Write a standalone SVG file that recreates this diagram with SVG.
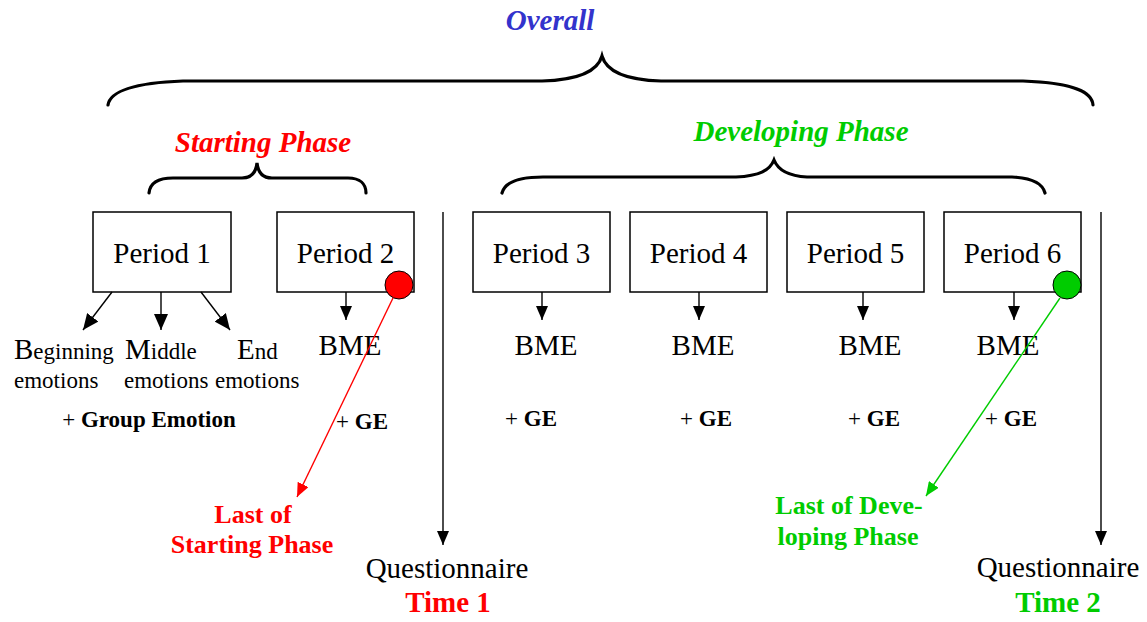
<svg xmlns="http://www.w3.org/2000/svg" width="1147" height="622" viewBox="0 0 1147 622">
<style>
text{font-family:"Liberation Serif","Times New Roman",serif;fill:#000}
.box{fill:#fff;stroke:#000;stroke-width:1.5}
.brace{fill:none;stroke:#000;stroke-width:3.2;stroke-linecap:round}
.ln{stroke:#000;stroke-width:1.4;fill:none}
.big{font-size:29px}
.sm{font-size:23px}
.ttl{font-size:29px;font-weight:bold;font-style:italic}
.ge{font-size:23px}
.b{font-weight:bold}
.red{fill:#ff0000}
.grn{fill:#00cc00}
</style>
<defs>
<marker id="ah" viewBox="0 0 14 12" refX="14" refY="6" markerWidth="14" markerHeight="12" markerUnits="userSpaceOnUse" orient="auto"><path d="M0,0 L14,6 L0,12 Z" fill="#000"/></marker>
<marker id="ahb" viewBox="0 0 16 14" refX="16" refY="7" markerWidth="16" markerHeight="14" markerUnits="userSpaceOnUse" orient="auto"><path d="M0,0 L16,7 L0,14 Z" fill="#000"/></marker>
<marker id="ahr" viewBox="0 0 14 12" refX="14" refY="6" markerWidth="14" markerHeight="12" markerUnits="userSpaceOnUse" orient="auto"><path d="M0,0 L14,6 L0,12 Z" fill="#ff0000"/></marker>
<marker id="ahg" viewBox="0 0 14 12" refX="14" refY="6" markerWidth="14" markerHeight="12" markerUnits="userSpaceOnUse" orient="auto"><path d="M0,0 L14,6 L0,12 Z" fill="#00cc00"/></marker>
</defs>

<g id="titles">
<text x="550" y="30" text-anchor="middle" class="ttl" style="fill:#3333cc">Overall</text>
<text x="263" y="152" text-anchor="middle" class="ttl red">Starting Phase</text>
<text x="801" y="141" text-anchor="middle" class="ttl grn">Developing Phase</text>
</g>

<g id="braces">
<path class="brace" d="M108,105 C110,92 130,83 183,81 L542,81 C580,80 598,70 602,56 C606,70 624,80 661,81 L1023,81 C1075,83 1092,92 1093,105"/>
<path class="brace" d="M149,193 C150,183 158,178 173,178 L242,178 C252,178 256,172 257,163 C258,172 262,178 272,178 L348,178 C360,178 366,184 366,193"/>
<path class="brace" d="M502,193 C505,182 520,177 543,177 L736,177 C760,176 770,170 774,160 C778,170 788,176 807,177 L1012,177 C1035,178 1043,185 1045,193"/>
</g>

<g id="period1">
<rect class="box" x="93" y="212" width="138" height="80"/>
<text x="162" y="263" text-anchor="middle" class="big">Period 1</text>
</g>
<g id="period2">
<rect class="box" x="277" y="212" width="137" height="80"/>
<text x="345.5" y="263" text-anchor="middle" class="big">Period 2</text>
</g>
<g id="period3">
<rect class="box" x="473" y="212" width="137" height="80"/>
<text x="541.5" y="263" text-anchor="middle" class="big">Period 3</text>
</g>
<g id="period4">
<rect class="box" x="630" y="212" width="137" height="80"/>
<text x="698.5" y="263" text-anchor="middle" class="big">Period 4</text>
</g>
<g id="period5">
<rect class="box" x="787" y="212" width="137" height="80"/>
<text x="855.5" y="263" text-anchor="middle" class="big">Period 5</text>
</g>
<g id="period6">
<rect class="box" x="944" y="212" width="137" height="80"/>
<text x="1012.5" y="263" text-anchor="middle" class="big">Period 6</text>
</g>

<g id="emotions">
<text x="14" y="359"><tspan class="big">B</tspan><tspan class="sm">eginning</tspan></text>
<text x="125" y="359"><tspan class="big">M</tspan><tspan class="sm">iddle</tspan></text>
<text x="237" y="359"><tspan class="big">E</tspan><tspan class="sm">nd</tspan></text>
<text x="14" y="388" class="sm">emotions</text>
<text x="124" y="388" class="sm">emotions</text>
<text x="215" y="388" class="sm">emotions</text>
<text x="149" y="427" text-anchor="middle" class="ge">+ <tspan class="b">Group Emotion</tspan></text>
</g>

<g id="bme">
<text x="350" y="355" text-anchor="middle" class="big">BME</text>
<text x="546" y="355" text-anchor="middle" class="big">BME</text>
<text x="703" y="355" text-anchor="middle" class="big">BME</text>
<text x="870" y="355" text-anchor="middle" class="big">BME</text>
<text x="1008" y="355" text-anchor="middle" class="big">BME</text>
<text x="362" y="429" text-anchor="middle" class="ge">+ <tspan class="b">GE</tspan></text>
<text x="531" y="426" text-anchor="middle" class="ge">+ <tspan class="b">GE</tspan></text>
<text x="706" y="426" text-anchor="middle" class="ge">+ <tspan class="b">GE</tspan></text>
<text x="874" y="426" text-anchor="middle" class="ge">+ <tspan class="b">GE</tspan></text>
<text x="1011" y="426" text-anchor="middle" class="ge">+ <tspan class="b">GE</tspan></text>
</g>

<g id="markers-dots">
<circle cx="399" cy="285" r="14" fill="#ff0000" stroke="#000" stroke-width="1"/>
<circle cx="1067" cy="285" r="14" fill="#00cc00" stroke="#000" stroke-width="1"/>
</g>

<g id="labels">
<text x="253" y="523" text-anchor="middle" class="b red" font-size="26">Last of</text>
<text x="252" y="553" text-anchor="middle" class="b red" font-size="26">Starting Phase</text>
<text x="849" y="514" text-anchor="middle" class="b grn" font-size="26">Last of Deve-</text>
<text x="848" y="545" text-anchor="middle" class="b grn" font-size="26">loping Phase</text>
<text x="447" y="578" text-anchor="middle" class="big">Questionnaire</text>
<text x="448" y="612" text-anchor="middle" class="big b red">Time 1</text>
<text x="1058" y="577" text-anchor="middle" class="big">Questionnaire</text>
<text x="1058" y="612" text-anchor="middle" class="big b grn">Time 2</text>
</g>

<g id="connectors">
<line class="ln" x1="112" y1="292" x2="83" y2="330" marker-end="url(#ahb)"/>
<line class="ln" x1="161" y1="292" x2="161" y2="330" marker-end="url(#ahb)"/>
<line class="ln" x1="201" y1="292" x2="230" y2="330" marker-end="url(#ahb)"/>
<line class="ln" x1="346" y1="292" x2="346" y2="320" marker-end="url(#ah)"/>
<line class="ln" x1="542" y1="292" x2="542" y2="320" marker-end="url(#ah)"/>
<line class="ln" x1="699" y1="292" x2="699" y2="320" marker-end="url(#ah)"/>
<line class="ln" x1="863" y1="292" x2="863" y2="320" marker-end="url(#ah)"/>
<line class="ln" x1="1014" y1="292" x2="1014" y2="320" marker-end="url(#ah)"/>
<line class="ln" x1="443" y1="212" x2="443" y2="545" marker-end="url(#ah)"/>
<line class="ln" x1="1101" y1="212" x2="1101" y2="545" marker-end="url(#ah)"/>
<line x1="393" y1="298" x2="297" y2="497" stroke="#ff0000" stroke-width="1.4" marker-end="url(#ahr)"/>
<line x1="1060" y1="298" x2="926" y2="496" stroke="#00cc00" stroke-width="1.4" marker-end="url(#ahg)"/>
</g>
</svg>
